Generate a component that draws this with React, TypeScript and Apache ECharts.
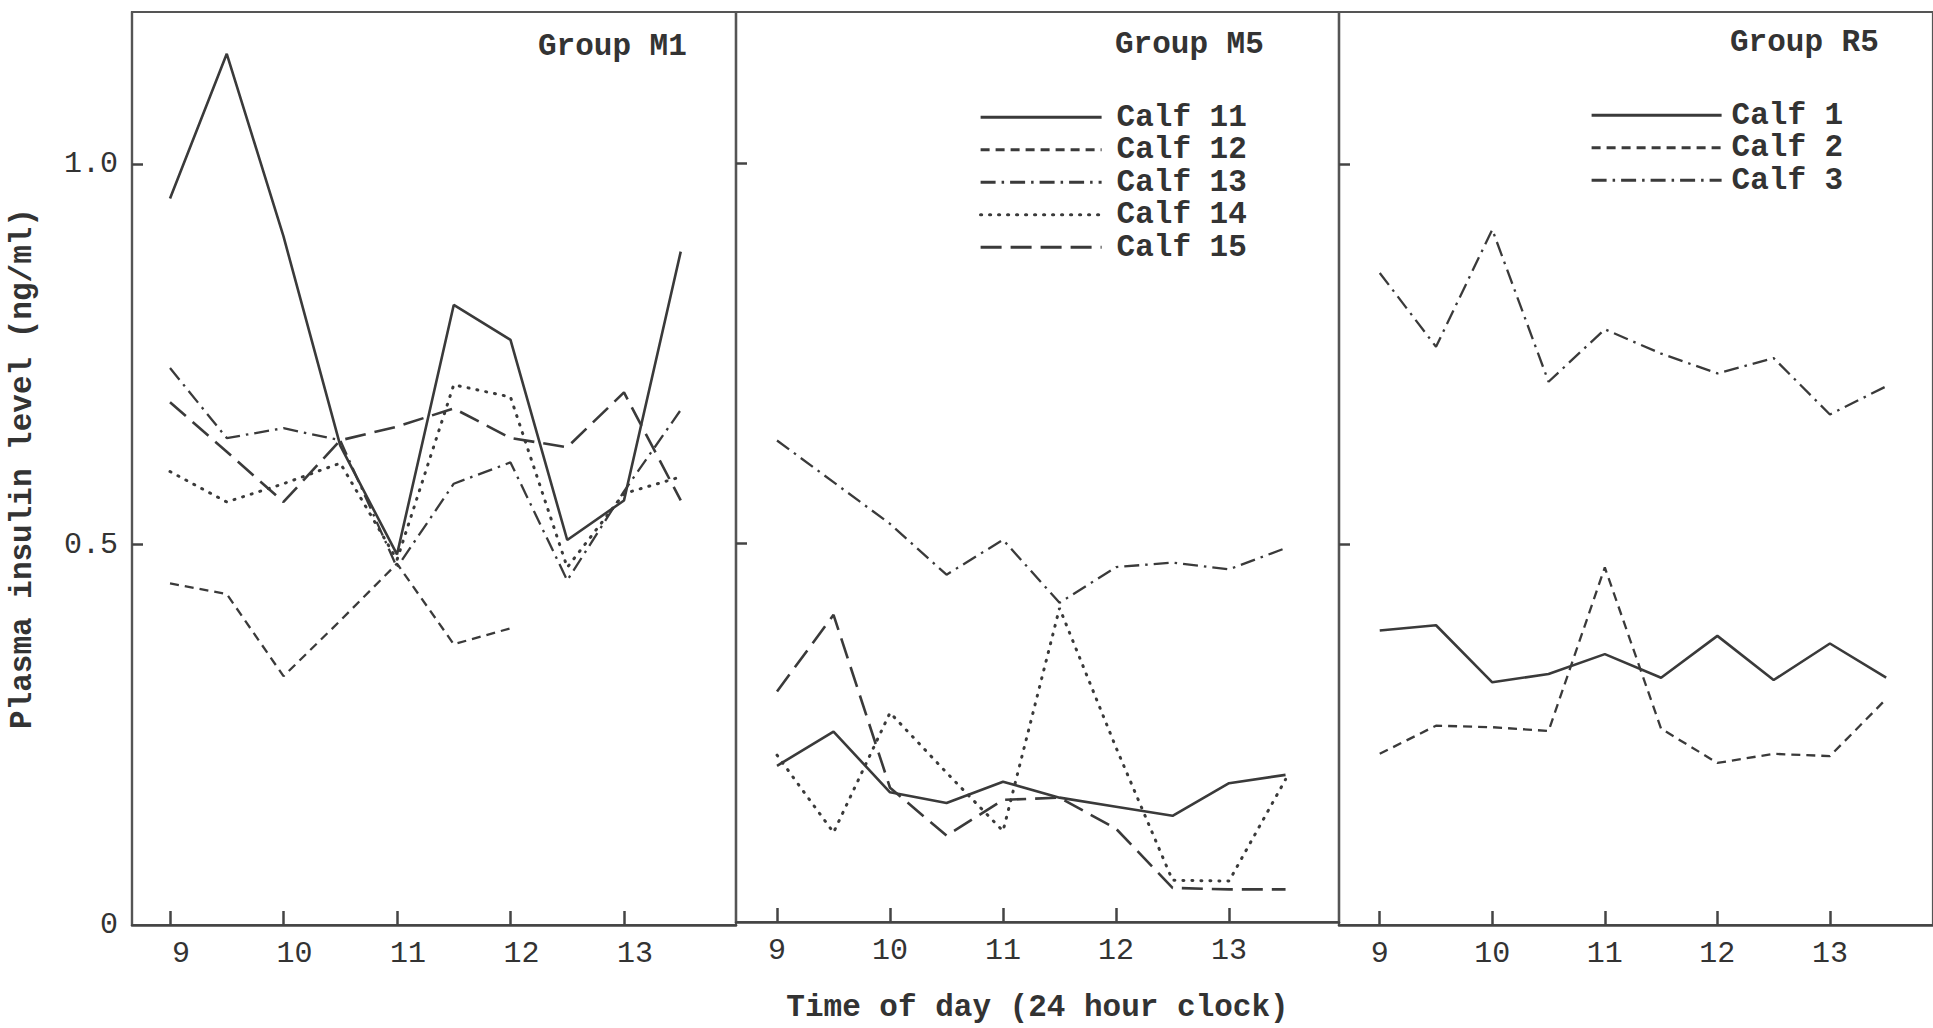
import React, { useEffect, useRef } from "react";
import * as echarts from "echarts";

// ---- data ----
const hours = [9, 9.5, 10, 10.5, 11, 11.5, 12, 12.5, 13, 13.5];
const xTickValues = [9, 10, 11, 12, 13];
const yLabelValues = [0, 0.5, 1.0];
const yTickValues = [0.5, 1.0];
const groupTitles = ["Group M1", "Group M5", "Group R5"];

// Group M1 (calves not identified in the figure)
const m1Solid = [0.955, 1.145, 0.905, 0.63, 0.487, 0.815, 0.769, 0.506, 0.558, 0.885];
const m1ShortDash = [0.449, 0.435, 0.327, 0.4, 0.475, 0.369, 0.39, null, null, null];
const m1DashDot = [0.732, 0.64, 0.653, 0.637, 0.47, 0.58, 0.608, 0.453, 0.57, 0.677];
const m1Dotted = [0.596, 0.556, 0.58, 0.607, 0.48, 0.71, 0.694, 0.47, 0.567, 0.589];
const m1LongDash = [0.687, 0.622, 0.556, 0.637, 0.655, 0.679, 0.64, 0.628, 0.7, 0.558];

// Group M5
const calf11 = [0.206, 0.251, 0.171, 0.157, 0.185, 0.164, 0.152, 0.14, 0.183, 0.194];
const calf12 = [null, null, null, null, null, null, null, null, null, null];
const calf13 = [0.635, 0.58, 0.525, 0.458, 0.504, 0.421, 0.468, 0.474, 0.465, 0.493];
const calf14 = [0.22, 0.118, 0.276, 0.197, 0.12, 0.414, 0.23, 0.055, 0.054, 0.188];
const calf15 = [0.304, 0.405, 0.177, 0.114, 0.161, 0.164, 0.123, 0.045, 0.043, 0.043];

// Group R5
const calf1 = [0.387, 0.394, 0.319, 0.33, 0.356, 0.325, 0.38, 0.322, 0.37, 0.325];
const calf2 = [0.225, 0.262, 0.26, 0.255, 0.47, 0.258, 0.213, 0.225, 0.222, 0.297];
const calf3 = [0.857, 0.76, 0.914, 0.714, 0.783, 0.751, 0.725, 0.745, 0.671, 0.708];

const legendM5 = ["Calf 11", "Calf 12", "Calf 13", "Calf 14", "Calf 15"];
const legendR5 = ["Calf 1", "Calf 2", "Calf 3"];

// ---- styles ----
const INK = "#3a3a3a";
const FONT = "'Liberation Mono', 'DejaVu Sans Mono', monospace";

const lineStyles: Record<string, any> = {
  solid: { type: "solid", width: 2.6, color: INK },
  shortDash: { type: [9, 6], width: 2.3, color: INK },
  dashDot: { type: [15, 6, 2.5, 6], width: 2.3, color: INK },
  dotted: { type: [1, 8], width: 3, cap: "round", color: INK },
  longDash: { type: [21, 9], width: 2.6, color: INK },
};

const grids = [
  { left: 132, top: 12, width: 604, height: 913 },
  { left: 736, top: 12, width: 603, height: 913 },
  { left: 1339, top: 12, width: 598, height: 913 },
];
const xRanges = [
  [8.665, 13.987],
  [8.637, 13.973],
  [8.638, 13.916],
];

function toPoints(values: (number | null)[]) {
  const pts: [number, number][] = [];
  values.forEach((v, i) => {
    if (v !== null && v !== undefined) pts.push([hours[i], v]);
  });
  return pts;
}

function line(name: string, values: (number | null)[], style: string, panel: number) {
  return {
    type: "line",
    name,
    xAxisIndex: panel,
    yAxisIndex: panel,
    data: toPoints(values),
    symbol: "none",
    showSymbol: false,
    silent: true,
    lineStyle: lineStyles[style],
    itemStyle: { color: INK },
    z: 3,
  };
}

export default function App() {
  const ref = useRef<HTMLDivElement>(null);

  useEffect(() => {
    if (!ref.current) return;
    const chart = echarts.init(ref.current, undefined, { renderer: "svg" });

    const xAxis = grids.map((_, i) => ({
      type: "value",
      gridIndex: i,
      min: xRanges[i][0],
      max: xRanges[i][1],
      axisLine: { show: true, lineStyle: { color: "#444", width: 2.5 } },
      axisTick: {
        show: true,
        inside: true,
        length: 14,
        customValues: xTickValues,
        lineStyle: { color: "#444", width: 2.5 },
      },
      axisLabel: {
        show: true,
        customValues: xTickValues,
        margin: 14,
        color: "#333",
        fontFamily: FONT,
        fontSize: 30,
        padding: i === 0 ? [0, 0, 0, 22] : 0,
        formatter: (v: number) => String(Math.round(v)),
      },
      splitLine: { show: false },
      name: i === 1 ? "Time of day (24 hour clock)" : "",
      nameLocation: "middle",
      nameGap: 70,
      nameTextStyle: {
        fontFamily: FONT,
        fontSize: 31,
        fontWeight: "bold",
        color: "#333",
      },
    }));

    const yAxis = grids.map((_, i) => ({
      type: "value",
      gridIndex: i,
      min: 0,
      max: 1.2,
      axisLine: { show: true, lineStyle: { color: "#555", width: 2.2 } },
      axisTick: {
        show: true,
        inside: true,
        length: 11,
        customValues: yTickValues,
        lineStyle: { color: "#444", width: 2.5 },
      },
      axisLabel: {
        show: i === 0,
        customValues: yLabelValues,
        margin: 14,
        color: "#333",
        fontFamily: FONT,
        fontSize: 30,
        formatter: (v: number) => (v === 0 ? "0" : v.toFixed(1)),
      },
      splitLine: { show: false },
      name: i === 0 ? "Plasma insulin level (ng/ml)" : "",
      nameLocation: "middle",
      nameGap: 94,
      nameRotate: 90,
      nameTextStyle: {
        fontFamily: FONT,
        fontSize: 31,
        fontWeight: "bold",
        color: "#333",
      },
    }));

    const legendText = {
      fontFamily: FONT,
      fontSize: 31,
      fontWeight: "bold",
      color: "#333",
      lineHeight: 32.5,
    };
    const hiddenSymbol = {
      color: "transparent",
      borderColor: "transparent",
      borderWidth: 0,
      opacity: 0,
    };

    const option = {
      animation: false,
      backgroundColor: "#fff",
      grid: grids.map((g) => ({
        ...g,
        show: true,
        borderColor: "#555",
        borderWidth: 2.2,
        backgroundColor: "transparent",
        containLabel: false,
      })),
      xAxis,
      yAxis,
      legend: [
        {
          data: legendM5,
          orient: "vertical",
          left: 979,
          top: 101,
          padding: 0,
          itemGap: 0,
          itemWidth: 121,
          itemHeight: 14,
          selectedMode: false,
          itemStyle: hiddenSymbol,
          lineStyle: { width: 3.2 },
          textStyle: { ...legendText, padding: [0, 0, 0, 10] },
        },
        {
          data: legendR5,
          orient: "vertical",
          left: 1590,
          top: 99,
          padding: 0,
          itemGap: 0,
          itemWidth: 130,
          itemHeight: 14,
          selectedMode: false,
          itemStyle: hiddenSymbol,
          lineStyle: { width: 3.2 },
          textStyle: { ...legendText, padding: [0, 0, 0, 5] },
        },
      ],
      graphic: [
        { type: "text", left: 538, top: 31, style: { text: groupTitles[0], font: `bold 31px ${FONT}`, fill: "#333" } },
        { type: "text", left: 1115, top: 29, style: { text: groupTitles[1], font: `bold 31px ${FONT}`, fill: "#333" } },
        { type: "text", left: 1730, top: 27, style: { text: groupTitles[2], font: `bold 31px ${FONT}`, fill: "#333" } },
      ],
      series: [
        line("Group M1 – line A", m1Solid, "solid", 0),
        line("Group M1 – line B", m1ShortDash, "shortDash", 0),
        line("Group M1 – line C", m1DashDot, "dashDot", 0),
        line("Group M1 – line D", m1Dotted, "dotted", 0),
        line("Group M1 – line E", m1LongDash, "longDash", 0),
        line("Calf 11", calf11, "solid", 1),
        line("Calf 12", calf12, "shortDash", 1),
        line("Calf 13", calf13, "dashDot", 1),
        line("Calf 14", calf14, "dotted", 1),
        line("Calf 15", calf15, "longDash", 1),
        line("Calf 1", calf1, "solid", 2),
        line("Calf 2", calf2, "shortDash", 2),
        line("Calf 3", calf3, "dashDot", 2),
      ],
    };

    chart.setOption(option as any);
    return () => chart.dispose();
  }, []);

  return (
    <div
      ref={ref}
      style={{ position: "fixed", left: 0, top: 0, width: 1933, height: 1028, background: "#fff" }}
    />
  );
}
